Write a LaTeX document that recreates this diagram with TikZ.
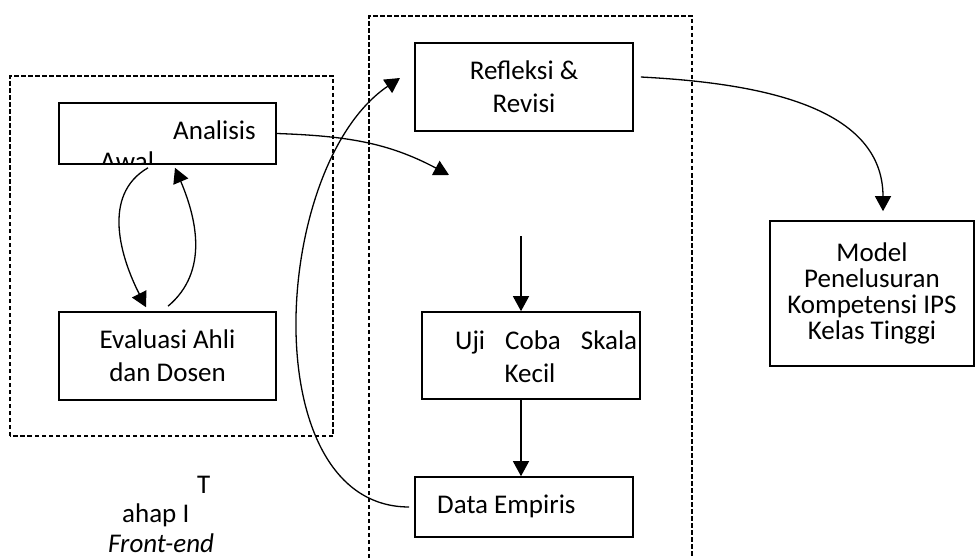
\documentclass[tikz,border=0pt]{standalone}
\usepackage{fontspec}
\setmainfont{Carlito}
\usetikzlibrary{arrows.meta,calc}

\begin{document}
\begin{tikzpicture}[x=1pt,y=1pt,font=\fontsize{27}{33}\selectfont,
	kotak/.style={draw,line width=1.6pt,fill=white,inner sep=0pt},
	putus/.style={line width=1.4pt,dash pattern=on 4.5pt off 2.5pt},
	garis/.style={line width=1.3pt,-{Triangle[length=15pt,width=16pt]}},
	teks/.style={inner sep=0pt}]
			\useasboundingbox (0,0) rectangle (977,558);

			\draw[putus] (10,122) rectangle (333,482);
			\draw[putus] (369,0)--(369,542)--(692,542)--(692,0);

			\node[kotak,minimum width=217,minimum height=61] (analisis) at (167.5,424.5) {};
			\node[kotak,minimum width=217,minimum height=88,align=center] (evaluasi) at (167.5,202) {Evaluasi Ahli\\dan Dosen};
			\node[kotak,minimum width=218,minimum height=88,align=center] (refleksi) at (524,471) {Refleksi \&\\Revisi};
			\node[kotak,minimum width=218,minimum height=87] (uji) at (531,202.5) {};
			\node[kotak,minimum width=218,minimum height=60] (data) at (524,51) {};
			\node[kotak,minimum width=204,minimum height=145,align=center,font=\fontsize{27}{26}\selectfont] (model) at (872,264.5) {Model\\Penelusuran\\Kompetensi IPS\\Kelas Tinggi};

			\node[teks,anchor=base west] (tanalisis) at (173,418) {Analisis};
			\begin{scope}
			\clip (analisis.south west) rectangle (analisis.north east);
			\node[teks,anchor=base west] (tawal) at (100,387) {Awal};
			\end{scope}
			\node[teks,anchor=base west] (tuji) at (455,209) {\makebox[182pt][l]{Uji\hfill Coba\hfill Skala}};
			\node[teks,anchor=base] (tkecil) at (530,176) {Kecil};
			\node[teks,anchor=base west] (tdata) at (437,45) {Data Empiris};

			\node[teks,anchor=base west] (tahapt) at (197,65) {T};
			\node[teks,anchor=base west] (tahapi) at (122,36) {ahap I};
			\node[teks,anchor=base west] (frontend) at (108,6) {\itshape Front-end};

			\coordinate (ujunga) at (449,383);
			\coordinate (ujungb) at (400,480);
			\coordinate (atasuji) at (521,322);

			\draw[garis] (analisis.east) to[out=-2,in=152] (ujunga);
			\draw[garis] ($(analisis.south)+(-19.5,-3)$) to[out=210,in=117] ($(evaluasi.north)+(-21.5,4)$);
			\draw[garis] ($(evaluasi.north)+(0.5,5)$) to[out=40,in=-67] ($(analisis.south)+(7.5,-3)$);
			\draw[garis] ($(data.west)+(-5,0)$) to[out=180,in=214,looseness=0.93] (ujungb);
			\draw[garis] ($(refleksi.east)+(7,10)$) to[out=-3,in=90] ($(model.north)+(11,9)$);
			\draw[garis] (atasuji) -- (uji.north -| atasuji);
			\draw[garis] (uji.south -| atasuji) -- (data.north -| atasuji);

		\end{tikzpicture}
\end{document}
